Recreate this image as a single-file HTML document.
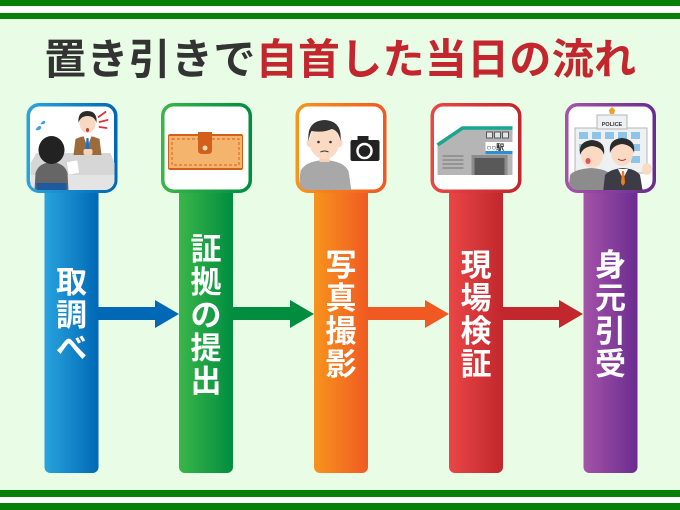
<!DOCTYPE html>
<html lang="ja"><head><meta charset="utf-8">
<style>
html,body{margin:0;padding:0;}
body{width:680px;height:510px;position:relative;overflow:hidden;background:#e8fce6;font-family:"Liberation Sans","Noto Sans CJK JP",sans-serif;}
svg{position:absolute;left:0;top:0;}
.title{position:absolute;left:44px;top:35px;line-height:50px;height:50px;font-size:42px;font-weight:bold;white-space:nowrap;color:#333333;}
.title i{font-style:normal;display:inline-block;width:42.3px;text-align:center;}
.title i.r{color:#c4262e;}
.lab{position:absolute;width:54px;text-align:center;color:#fff;font-size:31px;line-height:33px;font-weight:bold;}
</style></head>
<body>
<svg width="680" height="510" viewBox="0 0 680 510" xmlns="http://www.w3.org/2000/svg">
<defs>
<linearGradient id="gb" x1="0" x2="1" y1="0" y2="0"><stop offset="0" stop-color="#29a3de"/><stop offset="1" stop-color="#0068b5"/></linearGradient>
<linearGradient id="gg" x1="0" x2="1" y1="0" y2="0"><stop offset="0" stop-color="#3bb54a"/><stop offset="1" stop-color="#008d3f"/></linearGradient>
<linearGradient id="go" x1="0" x2="1" y1="0" y2="0"><stop offset="0" stop-color="#f7941d"/><stop offset="1" stop-color="#f05a22"/></linearGradient>
<linearGradient id="gr" x1="0" x2="1" y1="0" y2="0"><stop offset="0" stop-color="#ea4646"/><stop offset="1" stop-color="#c1272d"/></linearGradient>
<linearGradient id="gp" x1="0" x2="1" y1="0" y2="0"><stop offset="0" stop-color="#a453a8"/><stop offset="1" stop-color="#6a2c90"/></linearGradient>
<clipPath id="c"><rect x="3" y="3" width="85" height="84" rx="10"/></clipPath>
</defs>

<rect x="0" y="0" width="680" height="6" fill="#078007"/>
<rect x="0" y="6" width="680" height="7" fill="#ffffff"/>
<rect x="0" y="13" width="680" height="6" fill="#078007"/>
<rect x="0" y="490" width="680" height="7" fill="#078007"/>
<rect x="0" y="497" width="680" height="6" fill="#ffffff"/>
<rect x="0" y="503" width="680" height="7" fill="#078007"/>

<rect x="44.5" y="180" width="54" height="293" rx="6" fill="url(#gb)"/>
<rect x="179" y="180" width="54" height="293" rx="6" fill="url(#gg)"/>
<rect x="314" y="180" width="54" height="293" rx="6" fill="url(#go)"/>
<rect x="449" y="180" width="54" height="293" rx="6" fill="url(#gr)"/>
<rect x="583.5" y="180" width="54" height="293" rx="6" fill="url(#gp)"/>

<polygon points="98,307 155,307 155,300 179,314 155,328 155,320 98,320" fill="#0068b5"/>
<polygon points="233,307 290,307 290,300 314,314 290,328 290,320 233,320" fill="#008d3f"/>
<polygon points="368,307 425,307 425,300 449,314 425,328 425,320 368,320" fill="#f05a22"/>
<polygon points="503,307 559,307 559,300 583,314 559,328 559,320 503,320" fill="#c1272d"/>

<g transform="translate(26.5,103)">
<rect x="1.75" y="1.75" width="87.5" height="86.5" rx="11" fill="#fff" stroke="url(#gb)" stroke-width="3.5"/>
<g clip-path="url(#c)">
<polygon points="4,60 10,50 84,50 88,60 88,88 4,88" fill="#d6d6d6"/>
<rect x="4" y="72" width="84" height="16" fill="#e4e4e4"/>
<path d="M47,52 L49,36 Q61,30 73,36 L75,52 Z" fill="#9b6b3c"/>
<polygon points="57,33 61,44 65,33" fill="#fff"/>
<polygon points="60,35 62,35 63,48 61,51 59,48" fill="#1e6fc6"/>
<rect x="57" y="46" width="9" height="6" rx="2" fill="#f6d2b8"/>
<ellipse cx="61" cy="20" rx="8" ry="10" fill="#f8d8c0"/>
<path d="M52,20 Q51,8 61,8 Q71,8 70,20 Q68,13 61,13 Q54,13 52,20 Z" fill="#2b2b2b"/>
<ellipse cx="61" cy="27" rx="1.5" ry="2" fill="#c0392b"/>
<g stroke="#e0303a" stroke-width="1.8" stroke-linecap="round">
<line x1="72" y1="14" x2="79" y2="9"/><line x1="73" y1="19" x2="81" y2="17"/><line x1="73" y1="24" x2="80" y2="25"/>
</g>
<path d="M9,27 q3,-6 6,-3 q-1,4 -6,3z" fill="#3fa0e0"/>
<path d="M14,21 q3,-5 5,-2 q-1,3 -5,2z" fill="#3fa0e0"/>
<polygon points="40,59 51,57 53,70 42,72" fill="#fff" stroke="#cfcfcf" stroke-width="0.5"/>
<path d="M8,88 L9,70 Q12,60 25,59 Q38,60 41,70 L42,88 Z" fill="#666"/>
<ellipse cx="25" cy="47" rx="13" ry="14" fill="#222"/>
<rect x="10" y="80" width="30" height="8" fill="#1e5a9e"/>
</g>
</g>

<g transform="translate(161,103)">
<rect x="1.75" y="1.75" width="87.5" height="86.5" rx="11" fill="#fff" stroke="url(#gg)" stroke-width="3.5"/>
<g clip-path="url(#c)">
<rect x="7" y="31" width="75" height="36" rx="2" fill="#d2601a"/>
<rect x="8" y="33" width="73" height="32" fill="#f5b46e"/>
<rect x="11" y="36" width="67" height="26" fill="none" stroke="#d2601a" stroke-width="1" stroke-dasharray="3 2"/>
<path d="M37,29 L51,29 L51,47 Q51,51 47,51 L41,51 Q37,51 37,47 Z" fill="#d2601a"/>
<circle cx="44" cy="45" r="2.5" fill="#e9dcae"/>
</g>
</g>

<g transform="translate(295.5,103)">
<rect x="1.75" y="1.75" width="87.5" height="86.5" rx="11" fill="#fff" stroke="url(#go)" stroke-width="3.5"/>
<g clip-path="url(#c)">
<path d="M3,88 L5,68 Q10,58 29,57 Q48,58 53,68 L56,88 Z" fill="#a8a8a8"/>
<rect x="24" y="50" width="10" height="9" fill="#f6d2b8"/>
<ellipse cx="14" cy="40" rx="3" ry="4" fill="#f8d8c0"/>
<ellipse cx="44" cy="40" rx="3" ry="4" fill="#f8d8c0"/>
<ellipse cx="29" cy="39" rx="15" ry="17" fill="#fbdac3"/>
<path d="M13,38 Q11,18 29,17 Q47,18 45,38 Q43,27 36,26 Q28,30 16,28 Q14,32 13,38 Z" fill="#333"/>
<circle cx="23" cy="39" r="1.3" fill="#333"/><circle cx="35" cy="39" r="1.3" fill="#333"/>
<path d="M25,49 Q29,47 33,49" stroke="#333" stroke-width="1" fill="none"/>
<rect x="55" y="37" width="29" height="21" rx="2" fill="#222"/>
<rect x="62" y="33" width="11" height="5" fill="#222"/>
<circle cx="69" cy="48" r="7" fill="none" stroke="#fff" stroke-width="2.5"/>
</g>
</g>

<g transform="translate(430.5,103)">
<rect x="1.75" y="1.75" width="87.5" height="86.5" rx="11" fill="#fff" stroke="url(#gr)" stroke-width="3.5"/>
<g clip-path="url(#c)">
<polygon points="7,43 32,26 82,26 82,72 7,72" fill="#b5b5b5"/>
<polyline points="7,42 32,25 82,25" fill="none" stroke="#1aa68f" stroke-width="3.5"/>
<rect x="56" y="29" width="6" height="6" fill="#dde6ee" stroke="#555" stroke-width="1"/>
<rect x="64" y="29" width="6" height="6" fill="#dde6ee" stroke="#555" stroke-width="1"/>
<rect x="72" y="29" width="6" height="6" fill="#dde6ee" stroke="#555" stroke-width="1"/>
<rect x="55" y="39" width="27" height="9" fill="#fff"/>
<text x="56" y="47" font-size="8" font-weight="bold" fill="#222" font-family="Liberation Sans, Noto Sans CJK JP, sans-serif">○○駅</text>
<rect x="55" y="48" width="27" height="3" fill="#2a8fd6"/>
<rect x="41" y="52" width="36" height="20" fill="#8c8c8c"/>
<rect x="44" y="55" width="30" height="17" fill="#595959"/>
<g stroke="#8a8a8a" stroke-width="1.5"><line x1="12" y1="53" x2="33" y2="53"/><line x1="12" y1="57" x2="33" y2="57"/><line x1="12" y1="61" x2="33" y2="61"/><line x1="12" y1="65" x2="33" y2="65"/></g>
</g>
</g>

<g transform="translate(565,103)">
<rect x="1.75" y="1.75" width="87.5" height="86.5" rx="11" fill="#fff" stroke="url(#gp)" stroke-width="3.5"/>
<g clip-path="url(#c)">
<rect x="10" y="25" width="72" height="45" fill="#eef1f4" stroke="#b5b5b5" stroke-width="1"/>
<rect x="32" y="12" width="30" height="14" fill="#eef1f4" stroke="#b5b5b5" stroke-width="1"/>
<text x="47" y="23" font-size="5.5" font-weight="bold" text-anchor="middle" fill="#333" font-family="Liberation Sans, sans-serif">POLICE</text>
<path d="M47,4 l3,3 l-1,4 h-4 l-1,-4 z" fill="#f39c2a"/>
<g fill="#8fc3ea">
<rect x="14" y="29" width="9" height="7"/><rect x="27" y="29" width="9" height="7"/><rect x="40" y="29" width="9" height="7"/><rect x="53" y="29" width="9" height="7"/><rect x="66" y="29" width="9" height="7"/>
<rect x="14" y="41" width="9" height="7"/><rect x="66" y="41" width="9" height="7"/><rect x="66" y="53" width="9" height="7"/>
</g>
<path d="M3,90 L5,72 Q10,66 26,65 Q42,66 46,72 L48,90 Z" fill="#8c8c8c"/>
<ellipse cx="27" cy="52" rx="11" ry="13" fill="#fbdac3"/>
<path d="M15,52 Q13,38 27,37 Q41,38 39,52 Q37,44 27,43 Q18,44 15,52 Z" fill="#2b2b2b"/>
<ellipse cx="23" cy="58" rx="2.5" ry="3" fill="#e0505a"/>
<path d="M38,90 L40,72 Q45,66 58,65 Q71,66 75,72 L78,90 Z" fill="#3c3c46"/>
<polygon points="53,66 58,76 63,66" fill="#fff"/>
<polygon points="57,68 59,68 60,80 58,83 56,80" fill="#f07d1a"/>
<ellipse cx="57" cy="50" rx="11" ry="13" fill="#fbdac3"/>
<path d="M45,50 Q43,36 57,35 Q71,36 69,50 Q67,42 57,41 Q48,42 45,50 Z" fill="#2b2b2b"/>
<path d="M53,56 Q57,59 61,56" stroke="#a33" stroke-width="1" fill="none"/>
<ellipse cx="82" cy="66" rx="5" ry="6" fill="#fbdac3"/>
</g>
</g>
</svg>

<div class="title"><i>置</i><i>き</i><i>引</i><i>き</i><i>で</i><i class="r">自</i><i class="r">首</i><i class="r">し</i><i class="r">た</i><i class="r">当</i><i class="r">日</i><i class="r">の</i><i class="r">流</i><i class="r">れ</i></div>

<div class="lab" style="left:44.5px;top:265.5px;">取<br>調<br>べ</div>
<div class="lab" style="left:179px;top:232.5px;">証<br>拠<br>の<br>提<br>出</div>
<div class="lab" style="left:314px;top:249px;">写<br>真<br>撮<br>影</div>
<div class="lab" style="left:449px;top:249px;">現<br>場<br>検<br>証</div>
<div class="lab" style="left:583.5px;top:249px;">身<br>元<br>引<br>受</div>
</body></html>
